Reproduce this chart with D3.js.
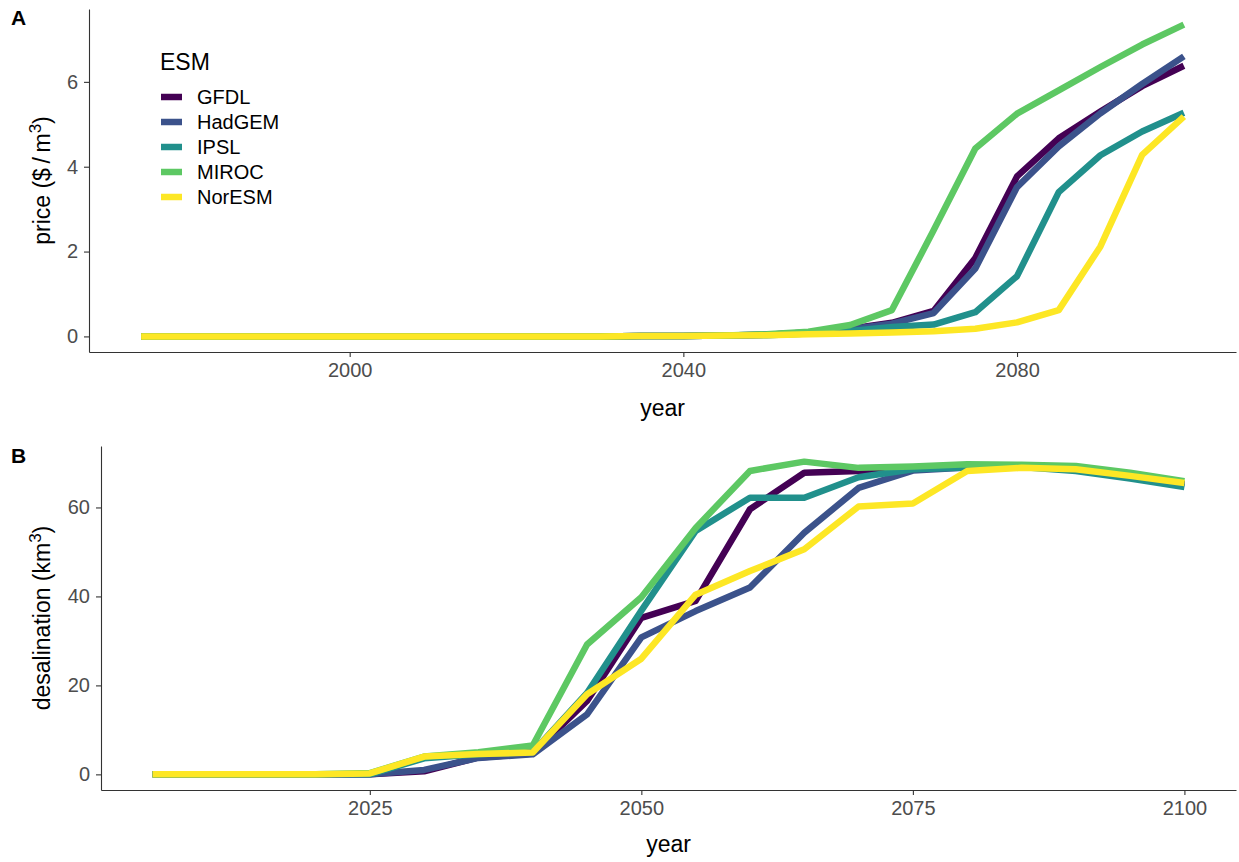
<!DOCTYPE html>
<html>
<head>
<meta charset="utf-8">
<script src="https://cdn.jsdelivr.net/npm/d3@7"></script>
<style>
  html, body { margin: 0; padding: 0; background: #fff; }
  svg { display: block; font-family: "Liberation Sans", Arial, sans-serif; }
</style>
</head>
<body>
<svg id="chart" width="1239" height="862"></svg>
<script>
// Earth system models, in legend / drawing order
const models = ["GFDL", "HadGEM", "IPSL", "MIROC", "NorESM"];
const modelColors = ["#440154", "#3B528B", "#21908C", "#5DC863", "#FDE725"];

// Panel A: water price ($/m3)
const yearsA = [1975, 1980, 1985, 1990, 1995, 2000, 2005, 2010, 2015, 2020, 2025, 2030, 2035,
                2040, 2045, 2050, 2055, 2060, 2065, 2070, 2075, 2080, 2085, 2090, 2095, 2100];
const priceGFDL   = [0, 0, 0, 0, 0, 0, 0, 0, 0, 0, 0, 0, 0.01, 0.01, 0.02,
                     0.04, 0.09, 0.18, 0.32, 0.60, 1.85, 3.77, 4.67, 5.30, 5.90, 6.38];
const priceHadGEM = [0, 0, 0, 0, 0, 0, 0, 0, 0, 0, 0, 0, 0.01, 0.01, 0.02,
                     0.04, 0.09, 0.17, 0.30, 0.55, 1.60, 3.52, 4.48, 5.26, 5.95, 6.60];
const priceIPSL   = [0, 0, 0, 0, 0, 0, 0, 0, 0, 0, 0, 0, 0.01, 0.01, 0.02,
                     0.03, 0.07, 0.13, 0.22, 0.28, 0.57, 1.42, 3.40, 4.27, 4.83, 5.27];
const priceMIROC  = [0, 0, 0, 0, 0, 0, 0, 0, 0, 0, 0, 0, 0.01, 0.01, 0.02,
                     0.05, 0.11, 0.27, 0.62, 2.50, 4.43, 5.25, 5.80, 6.35, 6.88, 7.35];
const priceNorESM = [0, 0, 0, 0, 0, 0, 0, 0, 0, 0, 0, 0, 0.01, 0.01, 0.02,
                     0.03, 0.05, 0.07, 0.09, 0.12, 0.18, 0.33, 0.62, 2.12, 4.28, 5.18];
const priceTicksX = [2000, 2040, 2080];
const priceTicksY = [0, 2, 4, 6];

// Panel B: desalination volume (km3)
const yearsB = [2005, 2010, 2015, 2020, 2025, 2030, 2035, 2040, 2045, 2050,
                2055, 2060, 2065, 2070, 2075, 2080, 2085, 2090, 2095, 2100];
const desalGFDL   = [0, 0, 0, 0, 0, 0.7, 3.8, 4.7, 16.5, 35.2,
                     39.0, 59.6, 67.8, 68.2, 68.6, 69.1, 69.2, 68.6, 67.0, 65.3];
const desalHadGEM = [0, 0, 0, 0, 0, 1.0, 3.7, 4.5, 13.5, 30.8,
                     36.7, 42.0, 54.3, 64.4, 68.3, 69.0, 69.2, 68.5, 66.8, 65.2];
const desalIPSL   = [0, 0, 0, 0, 0, 3.6, 4.5, 5.0, 18.3, 36.8,
                     54.7, 62.2, 62.2, 66.8, 68.6, 69.0, 69.1, 68.2, 66.5, 64.6];
const desalMIROC  = [0, 0, 0, 0, 0.3, 4.0, 5.0, 6.5, 29.2, 39.8,
                     55.4, 68.2, 70.3, 68.9, 69.2, 69.7, 69.6, 69.3, 67.8, 65.9];
const desalNorESM = [0, 0, 0, 0, 0.2, 4.0, 4.6, 4.9, 18.0, 26.0,
                     40.4, 45.7, 50.6, 60.2, 60.9, 68.2, 68.9, 68.6, 67.1, 65.5];
const desalTicksX = [2025, 2050, 2075, 2100];
const desalTicksY = [0, 20, 40, 60];

const svg = d3.select("#chart");
const AXIS_COLOR = "#333333";
const TICK_TEXT = "#4D4D4D";
const LINE_WIDTH = 6.5;

// ggplot-style 5% padding around the data range
function padded(extent) {
  const pad = (extent[1] - extent[0]) * 0.05;
  return [extent[0] - pad, extent[1] + pad];
}

function buildSeries(years, valueArrays) {
  return models.map((m, i) => ({
    name: m,
    color: modelColors[i],
    points: years.map((yr, j) => ({ year: yr, value: valueArrays[i][j] }))
  }));
}

function drawPanel(opts) {
  const { series, years, box, ticksX, ticksY, tag, tagPos, yTitle, xTitleY, yTitleX } = opts;
  const allValues = series.flatMap(s => s.points.map(p => p.value));
  const x = d3.scaleLinear().domain(padded(d3.extent(years))).range([box.left, box.right]);
  const y = d3.scaleLinear().domain(padded(d3.extent(allValues))).range([box.bottom, box.top]);

  const g = svg.append("g");

  const line = d3.line().x(d => x(d.year)).y(d => y(d.value));
  g.append("g").selectAll("path")
    .data(series)
    .join("path")
    .attr("d", d => line(d.points))
    .attr("fill", "none")
    .attr("stroke", d => d.color)
    .attr("stroke-width", LINE_WIDTH)
    .attr("stroke-linejoin", "round")
    .attr("stroke-linecap", "butt");

  const xAxis = g.append("g")
    .attr("transform", `translate(0,${box.bottom})`)
    .call(d3.axisBottom(x).tickValues(ticksX).tickFormat(d3.format("d"))
      .tickSize(5).tickSizeOuter(0).tickPadding(6));
  const yAxis = g.append("g")
    .attr("transform", `translate(${box.left},0)`)
    .call(d3.axisLeft(y).tickValues(ticksY).tickFormat(d3.format("d"))
      .tickSize(5).tickSizeOuter(0).tickPadding(6));

  [xAxis, yAxis].forEach(ax => {
    ax.select(".domain").attr("stroke", AXIS_COLOR).attr("stroke-width", 1.1);
    ax.selectAll(".tick line").attr("stroke", AXIS_COLOR).attr("stroke-width", 1.1);
    ax.selectAll(".tick text")
      .attr("fill", TICK_TEXT)
      .style("font-size", "20px")
      .style("font-family", "'Liberation Sans', Arial, sans-serif");
  });

  // x-axis title
  g.append("text")
    .attr("x", (box.left + box.right) / 2)
    .attr("y", xTitleY)
    .attr("text-anchor", "middle")
    .style("font-size", "23px")
    .attr("fill", "#000")
    .text("year");

  // y-axis title with superscript unit
  const yt = g.append("text")
    .attr("transform", `translate(${yTitleX},${(box.top + box.bottom) / 2}) rotate(-90)`)
    .attr("text-anchor", "middle")
    .style("font-size", "23px")
    .attr("fill", "#000");
  yTitle.forEach(part => {
    const t = yt.append("tspan").text(part.text);
    if (part.sup) t.attr("baseline-shift", "super").style("font-size", "17px");
  });

  // panel tag
  g.append("text")
    .attr("x", tagPos[0])
    .attr("y", tagPos[1])
    .style("font-size", "21px")
    .style("font-weight", "bold")
    .attr("fill", "#000")
    .text(tag);

  return { x, y };
}

const seriesA = buildSeries(yearsA, [priceGFDL, priceHadGEM, priceIPSL, priceMIROC, priceNorESM]);
const seriesB = buildSeries(yearsB, [desalGFDL, desalHadGEM, desalIPSL, desalMIROC, desalNorESM]);

drawPanel({
  series: seriesA,
  years: yearsA,
  box: { left: 89, right: 1236, top: 9, bottom: 352 },
  ticksX: priceTicksX,
  ticksY: priceTicksY,
  tag: "A",
  tagPos: [11, 25],
  yTitle: [{ text: "price ($\u2009/\u2009m" }, { text: "3", sup: true }, { text: ")" }],
  xTitleY: 416,
  yTitleX: 50
});

drawPanel({
  series: seriesB,
  years: yearsB,
  box: { left: 101, right: 1236, top: 446, bottom: 790 },
  ticksX: desalTicksX,
  ticksY: desalTicksY,
  tag: "B",
  tagPos: [11, 463],
  yTitle: [{ text: "desalination (km" }, { text: "3", sup: true }, { text: ")" }],
  xTitleY: 852,
  yTitleX: 50
});

// Legend for the model colours, placed inside panel A
const legend = svg.append("g");
legend.append("text")
  .attr("x", 160)
  .attr("y", 70)
  .style("font-size", "23px")
  .attr("fill", "#000")
  .text("ESM");
const rows = legend.selectAll("g.row")
  .data(models.map((m, i) => ({ name: m, color: modelColors[i] })))
  .join("g")
  .attr("class", "row")
  .attr("transform", (d, i) => `translate(0,${97 + i * 25})`);
rows.append("line")
  .attr("x1", 161).attr("x2", 182)
  .attr("y1", 0).attr("y2", 0)
  .attr("stroke", d => d.color)
  .attr("stroke-width", LINE_WIDTH);
rows.append("text")
  .attr("x", 197)
  .attr("y", 0)
  .attr("dy", "0.36em")
  .style("font-size", "20px")
  .attr("fill", "#000")
  .text(d => d.name);
</script>
</body>
</html>
